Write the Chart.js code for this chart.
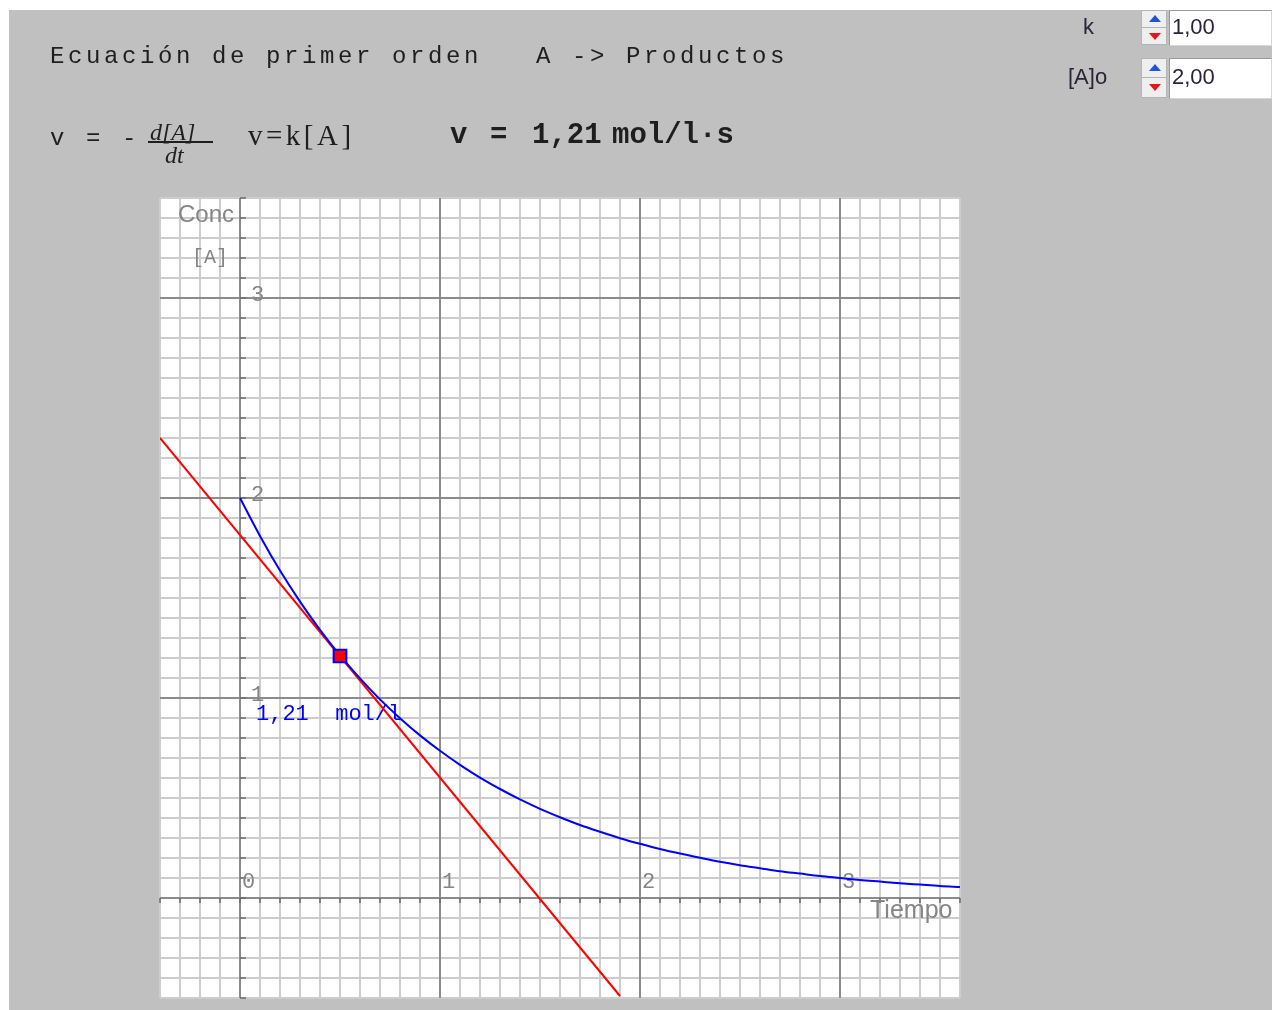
<!DOCTYPE html>
<html lang="es">
<head>
<meta charset="utf-8">
<title>Ecuación de primer orden</title>
<script src="https://cdn.jsdelivr.net/npm/chart.js@4.4.1/dist/chart.umd.min.js"></script>
<style>
  html, body { margin: 0; padding: 0; background: #fff; overflow: hidden; }
  #fondo { position: absolute; left: 9px; top: 10px; width: 1263px; height: 1000px; background: #c0c0c0; }
  #contenedor { position: absolute; left: 0; top: 0; width: 1277px; height: 1010px; }
  .txt { position: absolute; white-space: pre; color: #1e1e1e; z-index: 2; }
  .mono { font-family: "Liberation Mono", monospace; font-size: 24px; line-height: 24px; letter-spacing: 3.6px; }
  .negrita { font-family: "Liberation Mono", monospace; font-weight: bold; font-size: 29px; line-height: 29px; }
  .frac { font-family: "Liberation Serif", serif; font-style: italic; font-size: 24px; line-height: 24px; }
  .serif { font-family: "Liberation Serif", serif; font-size: 29px; line-height: 29px; letter-spacing: 3.5px; }
  .sans { font-family: "Liberation Sans", sans-serif; font-size: 22px; line-height: 22px; color: #2b2438; }
  .caja { position: absolute; left: 1169px; width: 101px; background: #fff; border: 1px solid #d6d6d6; border-left-color: #9a9a9a; border-top-color: #9a9a9a; z-index: 1; }
  .boton { position: absolute; left: 1141px; width: 26px; background: #efefef; border: 1px solid #b4b4b4; box-sizing: border-box; z-index: 1; }
  .arriba, .abajo { position: absolute; left: 7px; width: 0; height: 0; border-left: 6px solid transparent; border-right: 6px solid transparent; }
  .arriba { border-bottom: 7px solid #1f55d8; }
  .abajo { border-top: 7px solid #e8141c; }
  #barra { position: absolute; left: 148px; top: 141px; width: 65px; height: 2px; background: #1e1e1e; z-index: 2; }
</style>
</head>
<body>
<div id="fondo"></div>
<div id="contenedor"><canvas id="grafico"></canvas></div>

<div class="txt mono" style="left:50px; top:45px">Ecuación de primer orden   A -&gt; Productos</div>
<div class="txt mono" style="left:50px; top:127px">v = -</div>
<div class="txt frac" style="left:150px; top:120px">d[A]</div>
<div id="barra"></div>
<div class="txt frac" style="left:165px; top:143px">dt</div>
<div class="txt serif" style="left:248px; top:121px">v=k[A]</div>
<div class="txt negrita" style="left:450px; top:121px">v</div>
<div class="txt negrita" style="left:490px; top:121px">=</div>
<div class="txt negrita" style="left:532px; top:121px">1,21</div>
<div class="txt negrita" style="left:612px; top:121px">mol/l·s</div>

<div class="txt sans" style="left:1083px; top:16px">k</div>
<div class="txt sans" style="left:1068px; top:66px">[A]o</div>
<div class="boton" style="top:10px; height:18px"><div class="arriba" style="top:4px"></div></div>
<div class="boton" style="top:27px; height:18px"><div class="abajo" style="top:5px"></div></div>
<div class="caja" style="top:10px; height:34px"></div>
<div class="txt sans" style="left:1172px; top:16px">1,00</div>
<div class="boton" style="top:58px; height:20px"><div class="arriba" style="top:5px"></div></div>
<div class="boton" style="top:77px; height:21px"><div class="abajo" style="top:6px"></div></div>
<div class="caja" style="top:58px; height:39px"></div>
<div class="txt sans" style="left:1172px; top:66px">2,00</div>

<script>
// curva [A] frente al tiempo
const tiempos = [0, 0.1, 0.2, 0.3, 0.4, 0.5, 0.6, 0.7, 0.8, 0.9,
    1.0, 1.1, 1.2, 1.3, 1.4, 1.5, 1.6, 1.7, 1.8, 1.9,
    2.0, 2.1, 2.2, 2.3, 2.4, 2.5, 2.6, 2.7, 2.8, 2.9,
    3.0, 3.1, 3.2, 3.3, 3.4, 3.5, 3.6];
const concentraciones = [2.000, 1.810, 1.637, 1.482, 1.341, 1.213, 1.098, 0.993, 0.899, 0.813,
    0.736, 0.666, 0.602, 0.545, 0.493, 0.446, 0.404, 0.365, 0.331, 0.299,
    0.271, 0.245, 0.222, 0.201, 0.181, 0.164, 0.149, 0.134, 0.122, 0.110,
    0.100, 0.090, 0.082, 0.074, 0.067, 0.060, 0.055];

// recta tangente en el punto
const tangenteT = [-0.4, 1.9];
const tangenteC = [2.30, -0.49];

// punto marcado
const puntoT = [0.5];
const puntoC = [1.21];

// ejes
const marcasX = [0, 1, 2, 3];
const etiquetasX = ['0', '1', '2', '3'];
const marcasY = [1, 2, 3];
const etiquetasY = ['1', '2', '3'];

const aPuntos = (xs, ys) => xs.map((v, i) => ({ x: v, y: ys[i] }));

const cuadricula = {
    id: 'cuadricula',
    beforeDraw(chart) {
        const { ctx, chartArea: a } = chart;
        ctx.save();
        ctx.fillStyle = '#ffffff';
        ctx.fillRect(a.left, a.top, a.width, a.height);
        ctx.restore();
    },
    beforeDatasetsDraw(chart) {
        const { ctx, chartArea: a, scales: { x, y } } = chart;
        const x0 = x.getPixelForValue(0);
        const y0 = y.getPixelForValue(0);
        ctx.save();

        // lineas principales y ejes
        ctx.strokeStyle = '#8c8c8c';
        ctx.lineWidth = 2;
        ctx.beginPath();
        marcasX.forEach(v => {
            const px = Math.round(x.getPixelForValue(v));
            ctx.moveTo(px, a.top);
            ctx.lineTo(px, a.bottom);
        });
        [0, ...marcasY].forEach(v => {
            const py = Math.round(y.getPixelForValue(v));
            ctx.moveTo(a.left, py);
            ctx.lineTo(a.right, py);
        });
        ctx.stroke();

        // marcas pequeñas sobre los ejes
        ctx.strokeStyle = '#6a6a6a';
        ctx.lineWidth = 1.5;
        ctx.beginPath();
        x.ticks.forEach(t => {
            const px = Math.round(x.getPixelForValue(t.value));
            ctx.moveTo(px, y0);
            ctx.lineTo(px, y0 + 5);
        });
        y.ticks.forEach(t => {
            const py = Math.round(y.getPixelForValue(t.value));
            ctx.moveTo(x0, py);
            ctx.lineTo(x0 + 6, py);
        });
        ctx.stroke();

        // numeros de los ejes
        ctx.fillStyle = '#858585';
        ctx.font = '22px "Liberation Mono", monospace';
        ctx.textBaseline = 'alphabetic';
        marcasX.forEach((v, i) => {
            ctx.fillText(etiquetasX[i], x.getPixelForValue(v) + 2, y0 - 10);
        });
        marcasY.forEach((v, i) => {
            ctx.fillText(etiquetasY[i], x0 + 11, y.getPixelForValue(v) + 3);
        });

        // titulos de los ejes
        ctx.font = '24px "Liberation Sans", sans-serif';
        ctx.fillText('Conc', 178, a.top + 24);
        ctx.font = '25px "Liberation Sans", sans-serif';
        ctx.fillText('Tiempo', 870, y0 + 20);
        ctx.font = '20px "Liberation Mono", monospace';
        ctx.fillText('[A]', 192, a.top + 65);

        // valor en el punto
        ctx.fillStyle = '#0000ff';
        ctx.font = '22px "Liberation Mono", monospace';
        const valor = puntoC[0].toFixed(2).replace('.', ',');
        ctx.fillText(valor + '  mol/l', x0 + 16, y.getPixelForValue(puntoC[0]) + 64);
        ctx.restore();
    }
};

const ctx = document.getElementById('grafico');

new Chart(ctx, {
    type: 'scatter',
    data: {
        datasets: [
            {
                label: 'Punto',
                data: aPuntos(puntoT, puntoC),
                pointStyle: 'rect',
                pointRadius: 9,
                backgroundColor: '#ff0000',
                borderColor: '#0000ff',
                borderWidth: 2
            },
            {
                label: '[A]',
                data: aPuntos(tiempos, concentraciones),
                showLine: true,
                borderColor: '#0000ff',
                borderWidth: 2,
                pointRadius: 0,
                cubicInterpolationMode: 'monotone'
            },
            {
                label: 'Tangente',
                data: aPuntos(tangenteT, tangenteC),
                showLine: true,
                borderColor: '#ff0000',
                borderWidth: 2,
                pointRadius: 0
            }
        ]
    },
    options: {
        responsive: true,
        maintainAspectRatio: false,
        animation: false,
        events: [],
        layout: {
            autoPadding: false,
            padding: { left: 160, top: 198, right: 317, bottom: 12 }
        },
        plugins: {
            legend: { display: false },
            tooltip: { enabled: false }
        },
        scales: {
            x: {
                type: 'linear',
                min: -0.4,
                max: 3.6,
                ticks: { display: false, stepSize: 0.1 },
                grid: { color: '#cdcdcd', lineWidth: 2, drawTicks: false },
                border: { display: false },
                afterFit: s => { s.height = 0; }
            },
            y: {
                type: 'linear',
                min: -0.5,
                max: 3.5,
                ticks: { display: false, stepSize: 0.1 },
                grid: { color: '#cdcdcd', lineWidth: 2, drawTicks: false },
                border: { display: false },
                afterFit: s => { s.width = 0; }
            }
        }
    },
    plugins: [cuadricula]
});
</script>
</body>
</html>
